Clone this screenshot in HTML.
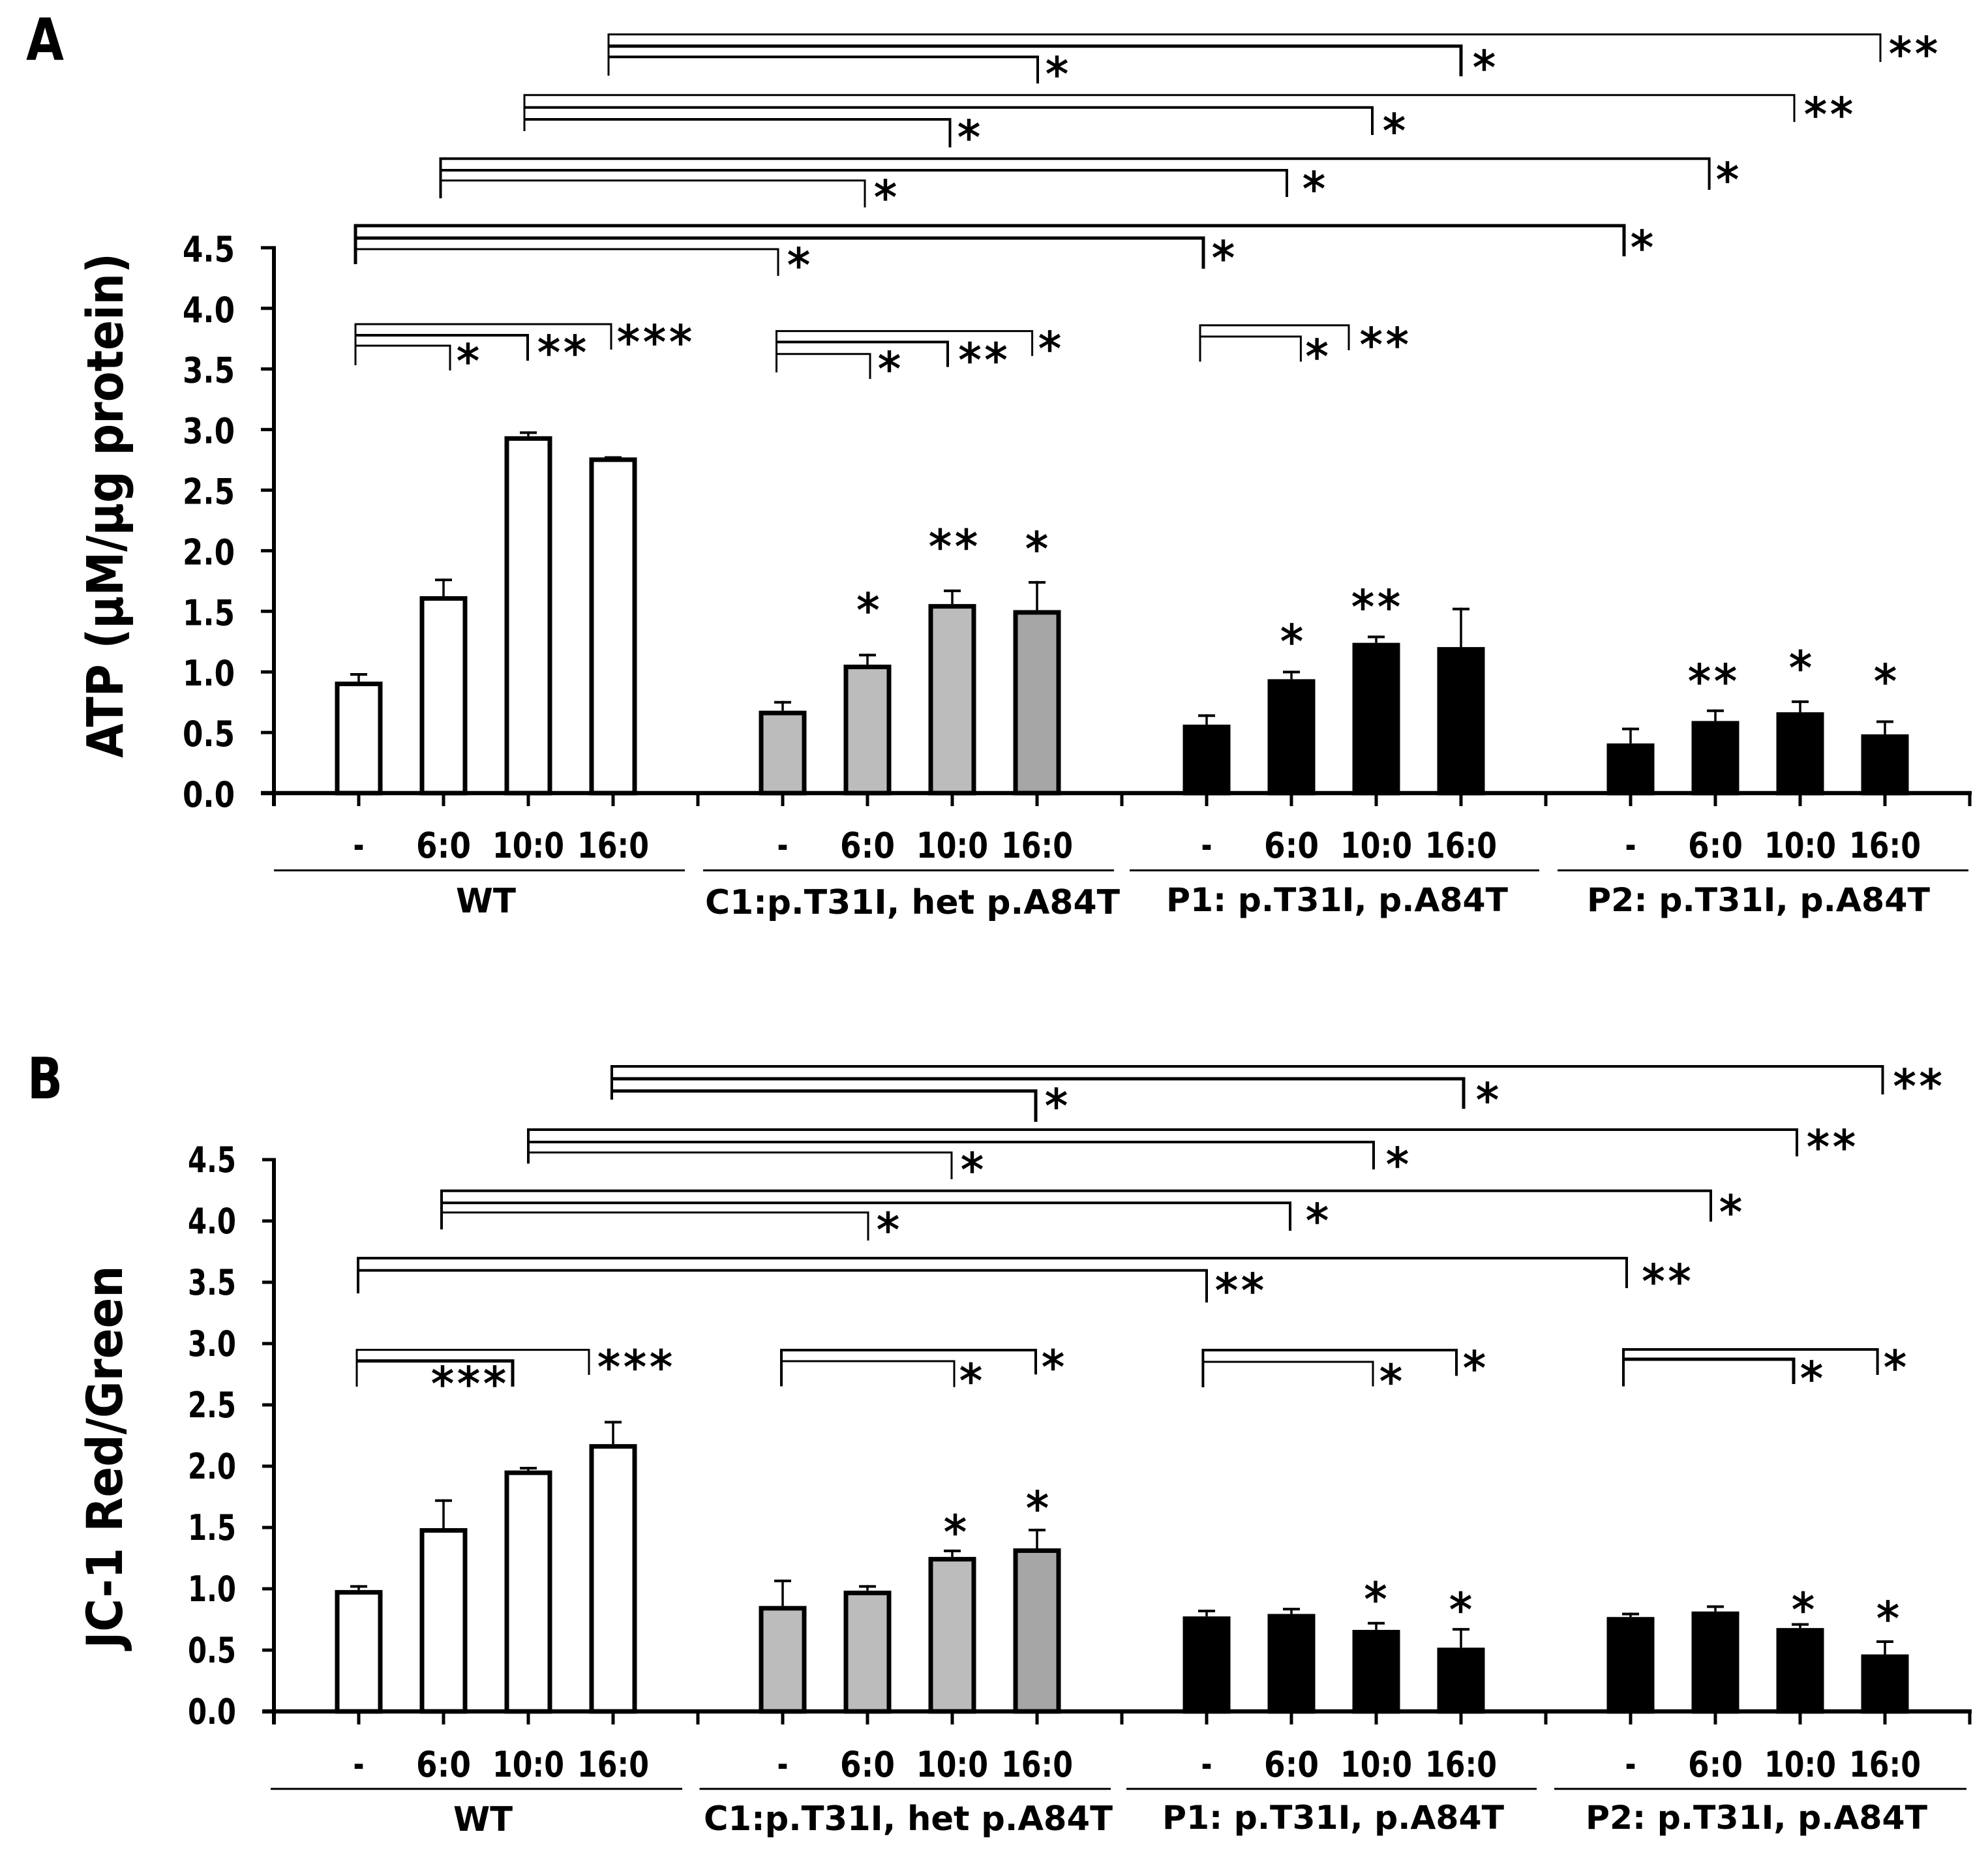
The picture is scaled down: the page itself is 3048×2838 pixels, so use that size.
<!DOCTYPE html>
<html lang="en">
<head>
<meta charset="utf-8">
<title>ATP and JC-1 bar charts</title>
<style>
html,body{margin:0;padding:0;background:#fff;}
svg{display:block;}
text{font-family:"DejaVu Sans","Liberation Sans",sans-serif;fill:#000;}
.lbl{font-weight:700;}
.star{font-size:70px;letter-spacing:5px;text-anchor:middle;font-weight:400;stroke:#000;stroke-width:1.5px;transform:translate(4px,-3px);}
.br{fill:none;stroke:#000;stroke-width:3;}
.m{stroke-width:4;}
.t{stroke-width:5;}
</style>
</head>
<body>
<svg id="chart" xmlns="http://www.w3.org/2000/svg" width="3048" height="2838" viewBox="0 0 3048 2838">
<rect x="0" y="0" width="3048" height="2838" fill="#fff"/>

<g id="panel-a">
<text class="lbl" x="40" y="92" font-size="89" textLength="58" lengthAdjust="spacingAndGlyphs">A</text>
<text class="lbl" transform="translate(188,775) rotate(-90)" text-anchor="middle" font-size="77" textLength="774" lengthAdjust="spacingAndGlyphs">ATP (µM/µg protein)</text>
<g>
<line x1="420" x2="1050" y1="1334.5" y2="1334.5" stroke="#000" stroke-width="3"/>
<line x1="1078" x2="1708" y1="1334.5" y2="1334.5" stroke="#000" stroke-width="3"/>
<line x1="1732" x2="2360" y1="1334.5" y2="1334.5" stroke="#000" stroke-width="3"/>
<line x1="2388" x2="3018" y1="1334.5" y2="1334.5" stroke="#000" stroke-width="3"/>
<text class="lbl" x="699" y="1399" font-size="52" textLength="92" lengthAdjust="spacingAndGlyphs">WT</text>
<text class="lbl" x="1081" y="1401" font-size="52" textLength="636" lengthAdjust="spacingAndGlyphs">C1:p.T31I, het p.A84T</text>
<text class="lbl" x="1788" y="1397" font-size="50" textLength="524" lengthAdjust="spacingAndGlyphs">P1: p.T31I, p.A84T</text>
<text class="lbl" x="2433" y="1397" font-size="50" textLength="526" lengthAdjust="spacingAndGlyphs">P2: p.T31I, p.A84T</text>
</g>
<g>
<path class="br" d="M933 116V52.7H2883V95"/>
<path class="br t" d="M933 70.7H2240V117"/>
<path class="br m" d="M933 87.3H1591V128"/>
<path class="br" d="M804 201V145.7H2751V187"/>
<path class="br m" d="M804 164.7H2104V207"/>
<path class="br m" d="M804 183H1456.5V226"/>
<path class="br m" d="M675.5 304V243.3H2620.6V291"/>
<path class="br m" d="M675.5 261H1973V302"/>
<path class="br" d="M675.5 276.7H1326V318"/>
<path class="br t" d="M545 405V346H2490V393"/>
<path class="br t" d="M545 365H1845V412"/>
<path class="br" d="M545 382H1193V423"/>
<path class="br" d="M545 560V497H937V536"/>
<path class="br m" d="M545 514H809V553"/>
<path class="br" d="M545 530H690V568"/>
<path class="br" d="M1190.5 571V507.6H1582.6V545.7"/>
<path class="br m" d="M1190.5 524.4H1453V562.6"/>
<path class="br" d="M1190.5 542.7H1334V581"/>
<path class="br" d="M1840 554.5V498.7H2068V537"/>
<path class="br" d="M1840 516H1994.4V554.5"/>
<text class="star" x="1619" y="141">*</text>
<text class="star" x="2274" y="131">*</text>
<text class="star" x="2932" y="110">**</text>
<text class="star" x="1484" y="238">*</text>
<text class="star" x="2136" y="228">*</text>
<text class="star" x="2802" y="203">**</text>
<text class="star" x="1356" y="330">*</text>
<text class="star" x="2013" y="317">*</text>
<text class="star" x="2647" y="303">*</text>
<text class="star" x="1223" y="434">*</text>
<text class="star" x="1874" y="423">*</text>
<text class="star" x="2516" y="407">*</text>
<text class="star" x="1002" y="552">***</text>
<text class="star" x="860" y="568">**</text>
<text class="star" x="716" y="581">*</text>
<text class="star" x="1608" y="562">*</text>
<text class="star" x="1505.5" y="579.5">**</text>
<text class="star" x="1362" y="593">*</text>
<text class="star" x="2120.7" y="556">**</text>
<text class="star" x="2017.6" y="574">*</text>
<text class="star" x="1329.4" y="963">*</text>
<text class="star" x="1460" y="865.5">**</text>
<text class="star" x="1588" y="869">*</text>
<text class="star" x="1979" y="1011">*</text>
<text class="star" x="2108" y="958">**</text>
<text class="star" x="2624" y="1072">**</text>
<text class="star" x="2759" y="1051.5">*</text>
<text class="star" x="2889" y="1072">*</text>
</g>
</g>

<g id="panel-b">
<text class="lbl" x="42" y="1684" font-size="87" textLength="54" lengthAdjust="spacingAndGlyphs">B</text>
<text class="lbl" transform="translate(187,2234) rotate(-90)" text-anchor="middle" font-size="76" textLength="587" lengthAdjust="spacingAndGlyphs">JC-1 Red/Green</text>
<g>
<line x1="415" x2="1046" y1="2742.8" y2="2742.8" stroke="#000" stroke-width="3"/>
<line x1="1072.5" x2="1703" y1="2742.8" y2="2742.8" stroke="#000" stroke-width="3"/>
<line x1="1727" x2="2356" y1="2742.8" y2="2742.8" stroke="#000" stroke-width="3"/>
<line x1="2383" x2="3015" y1="2742.8" y2="2742.8" stroke="#000" stroke-width="3"/>
<text class="lbl" x="695" y="2807" font-size="52" textLength="91" lengthAdjust="spacingAndGlyphs">WT</text>
<text class="lbl" x="1079" y="2806" font-size="52" textLength="627" lengthAdjust="spacingAndGlyphs">C1:p.T31I, het p.A84T</text>
<text class="lbl" x="1782" y="2804" font-size="50" textLength="524" lengthAdjust="spacingAndGlyphs">P1: p.T31I, p.A84T</text>
<text class="lbl" x="2431" y="2804" font-size="50" textLength="524" lengthAdjust="spacingAndGlyphs">P2: p.T31I, p.A84T</text>
</g>
<g>
<path class="br m" d="M938 1686V1635H2886.5V1678"/>
<path class="br t" d="M938 1654H2244V1700"/>
<path class="br t" d="M938 1672.7H1588V1720"/>
<path class="br m" d="M810 1784V1732H2755V1773"/>
<path class="br m" d="M810 1751H2106V1793"/>
<path class="br" d="M810 1767H1459V1808"/>
<path class="br m" d="M677 1885V1825.7H2623V1873"/>
<path class="br m" d="M677 1844.3H1978V1887"/>
<path class="br" d="M677 1859H1331V1902"/>
<path class="br m" d="M549 1983V1929H2494V1975"/>
<path class="br m" d="M549 1947.7H1850V1997"/>
<path class="br" d="M547 2126V2069.6H903V2108"/>
<path class="br t" d="M547 2086.6H786V2126"/>
<path class="br m" d="M1198 2125.5V2070H1588V2107.4"/>
<path class="br" d="M1198 2087H1463V2126.7"/>
<path class="br m" d="M1844.4 2127V2070H2233V2109.5"/>
<path class="br" d="M1844.4 2088H2105V2125.6"/>
<path class="br m" d="M2489 2125.6V2069H2878.6V2108"/>
<path class="br t" d="M2489 2084H2750V2122"/>
<text class="star" x="2938.6" y="1693">**</text>
<text class="star" x="2279" y="1714">*</text>
<text class="star" x="1618" y="1723">*</text>
<text class="star" x="2806" y="1786">**</text>
<text class="star" x="2141" y="1813">*</text>
<text class="star" x="1489" y="1821">*</text>
<text class="star" x="2652" y="1886">*</text>
<text class="star" x="2018" y="1899">*</text>
<text class="star" x="1360" y="1913">*</text>
<text class="star" x="2553.5" y="1992">**</text>
<text class="star" x="1899" y="2006">**</text>
<text class="star" x="972" y="2123.5">***</text>
<text class="star" x="717" y="2149">***</text>
<text class="star" x="1613" y="2123.6">*</text>
<text class="star" x="1487" y="2144.6">*</text>
<text class="star" x="2259" y="2125">*</text>
<text class="star" x="2131" y="2145.5">*</text>
<text class="star" x="2904" y="2124">*</text>
<text class="star" x="2776" y="2141">*</text>
<text class="star" x="1463" y="2376.7">*</text>
<text class="star" x="1589" y="2340">*</text>
<text class="star" x="2107.5" y="2479.5">*</text>
<text class="star" x="2238" y="2495.6">*</text>
<text class="star" x="2763" y="2495.6">*</text>
<text class="star" x="2893" y="2509">*</text>
</g>
</g>
</svg>

<script>
// Chart data. Each group has conditions: -, 6:0, 10:0, 16:0.
const conditions = ['-', '6:0', '10:0', '16:0'];
const groups = ['WT', 'C1', 'P1', 'P2'];
const yTickValues = [0, 0.5, 1, 1.5, 2, 2.5, 3, 3.5, 4, 4.5];
const atpValues = [0.92, 1.625, 2.945, 2.77, 0.68, 1.06, 1.56, 1.51, 0.565, 0.94, 1.24, 1.205, 0.41, 0.595, 0.667, 0.485];
const atpErrors = [0.07, 0.145, 0.04, 0.01, 0.08, 0.09, 0.12, 0.24, 0.085, 0.07, 0.06, 0.325, 0.13, 0.095, 0.098, 0.115];
const jc1Values = [0.99, 1.495, 1.965, 2.18, 0.86, 0.985, 1.26, 1.33, 0.775, 0.795, 0.665, 0.52, 0.77, 0.815, 0.68, 0.465];
const jc1Errors = [0.04, 0.235, 0.03, 0.19, 0.215, 0.045, 0.06, 0.16, 0.055, 0.05, 0.065, 0.16, 0.035, 0.05, 0.04, 0.115];

const SVG_NS = 'http://www.w3.org/2000/svg';
const xOrigin = 420;
const slotWidth = 130;
const slotCount = 20;
const barWidth = 73;
const barStroke = 7;

function make(tag, attrs, parent) {
  const el = document.createElementNS(SVG_NS, tag);
  for (const k in attrs) el.setAttribute(k, attrs[k]);
  parent.appendChild(el);
  return el;
}

function xScale(slot) {
  return xOrigin + slotWidth * slot;
}

function barFill(groupIndex, conditionIndex) {
  if (groupIndex === 0) return '#ffffff';
  if (groupIndex === 1) return conditionIndex === 3 ? '#a6a6a6' : '#bcbcbc';
  return '#000000';
}

function drawPanel(prefix, parent, baseY, unitPx, values, errors, opts) {
  const yScale = function (v) { return baseY - unitPx * v; };

  const barsGroup = make('g', {}, parent);
  
  

  values.forEach(function (v, i) {
    const g = Math.floor(i / conditions.length);
    const c = i % conditions.length;
    const slot = g * (conditions.length + 1) + c + 1;
    const cx = xScale(slot);
    const top = yScale(v);
    const errTop = yScale(v + errors[i]);

    const stem = make('line', { x1: cx, x2: cx, y1: top, y2: errTop, stroke: '#000', 'stroke-width': 3.5 }, barsGroup);
    
    

    const cap = make('line', { x1: cx - 13, x2: cx + 13, y1: errTop + 2, y2: errTop + 2, stroke: '#000', 'stroke-width': 4 }, barsGroup);
    
    

    const bar = make('rect', {
      x: cx - barWidth / 2 + barStroke / 2,
      y: top + barStroke / 2,
      width: barWidth - barStroke,
      height: Math.max(0, baseY - top - barStroke / 2),
      fill: barFill(g, c),
      stroke: '#000',
      'stroke-width': barStroke
    }, barsGroup);
    
    
  });

  const axes = make('g', {}, parent);
  
  

  const yAxis = make('line', { x1: xOrigin, x2: xOrigin, y1: yScale(4.5) - 2.5, y2: baseY + 20, stroke: '#000', 'stroke-width': 6 }, axes);
  
  

  const xAxis = make('line', { x1: opts.tickLeft, x2: xScale(slotCount) + 3, y1: baseY, y2: baseY, stroke: '#000', 'stroke-width': 6.5 }, axes);
  
  

  yTickValues.forEach(function (t) {
    const y = yScale(t);
    const tick = make('line', { x1: opts.tickLeft, x2: xOrigin, y1: y, y2: y, stroke: '#000', 'stroke-width': 5 }, axes);
    
    

    const label = make('text', {
      x: opts.yLabelX,
      y: y + opts.yLabelDy + 20,
      'text-anchor': 'middle',
      'font-size': 54,
      'font-weight': 700,
      textLength: opts.yLabelWidth,
      lengthAdjust: 'spacingAndGlyphs'
    }, axes);
    
    
    label.textContent = t.toFixed(1);
  });

  for (let s = 0; s <= slotCount; s++) {
    const x = xScale(s);
    const tick = make('line', { x1: x, x2: x, y1: baseY, y2: baseY + 20, stroke: '#000', 'stroke-width': 5 }, axes);
    
    
  }

  groups.forEach(function (groupName, g) {
    conditions.forEach(function (cond, c) {
      const slot = g * (conditions.length + 1) + c + 1;
      const attrs = {
        x: xScale(slot),
        y: opts.catLabelY,
        'text-anchor': 'middle',
        'font-size': 54,
        'font-weight': 700,
        lengthAdjust: 'spacingAndGlyphs'
      };
      attrs.textLength = cond.length === 1 ? 17 : (cond.length === 3 ? 84 : 110);
      const label = make('text', attrs, axes);
      
      
      label.textContent = cond;
    });
  });
}

drawPanel('atp', document.getElementById('panel-a'), 1216, 185.8, atpValues, atpErrors, {
  tickLeft: 400, yLabelX: 320, yLabelDy: 1, yLabelWidth: 80, catLabelY: 1315
});
drawPanel('jc1', document.getElementById('panel-b'), 2624, 188, jc1Values, jc1Errors, {
  tickLeft: 402, yLabelX: 325, yLabelDy: -1, yLabelWidth: 74, catLabelY: 2724
});
</script>
</body>
</html>
